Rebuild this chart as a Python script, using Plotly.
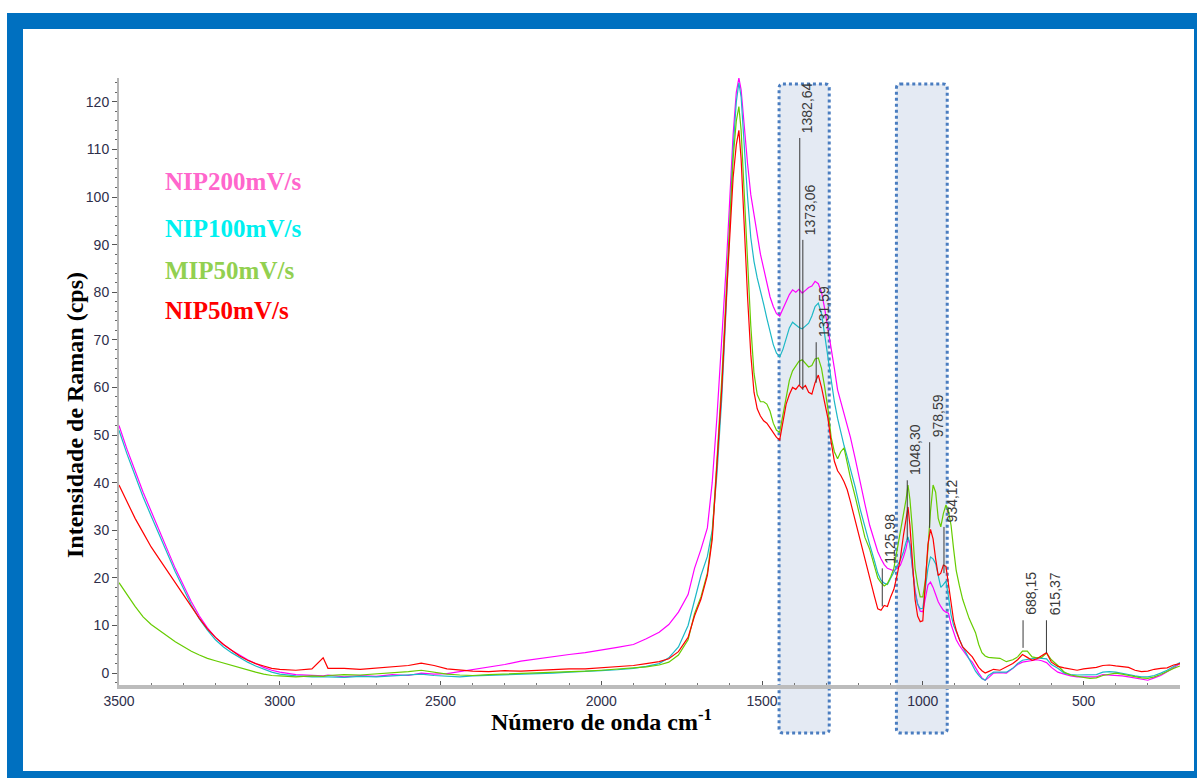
import plotly.graph_objects as go

# ---------------------------------------------------------------- data
wavenumber = [
    3500, 3475, 3450, 3425, 3400, 3375, 3350, 3325, 3300, 3275, 3250, 3225, 3200, 3175, 3150, 3125, 3100, 3075, 3050, 3025, 3000,
    2950, 2900, 2865, 2850, 2800, 2750, 2700, 2650, 2600, 2560, 2520, 2480, 2440, 2400, 2350, 2300, 2250, 2200, 2150, 2100,
    2050, 2000, 1950, 1900, 1860, 1820, 1790, 1760, 1730,
    1710, 1690, 1670, 1655, 1640, 1625, 1610, 1600, 1590, 1580, 1572, 1565, 1555, 1545, 1535, 1525, 1515, 1505, 1495, 1485,
    1475, 1465, 1455, 1445,
    1435, 1425, 1415, 1405, 1395, 1385, 1375, 1365, 1355, 1345,
    1335, 1325, 1315, 1305, 1295, 1285, 1275, 1265, 1255, 1245,
    1235, 1225, 1210, 1195, 1180, 1165, 1150, 1140, 1130, 1120,
    1110, 1100, 1090, 1080, 1070, 1060, 1052, 1046, 1040, 1032,
    1024, 1016, 1008, 1000, 992, 984, 976, 968, 960, 952,
    944, 936, 928, 920, 912, 904, 896, 886, 876, 866,
    856, 846, 836, 826, 816, 806, 796, 780, 760, 740,
    720, 705, 690, 675, 660, 645, 630, 615, 600, 580,
    560, 540, 520, 500, 480, 460, 440, 420, 400, 380,
    360, 340, 320, 300, 280, 260, 240, 220, 200,
]

nip200 = [
    52, 47, 42.5, 38, 34, 30, 26, 22, 18.5, 15, 12, 9.5, 7.5, 6, 4.8, 3.8, 2.8, 2, 1.2, 0.6, 0.2,
    -0.3, -0.5, -0.6, -0.4, -0.8, -0.5, -0.7, -0.3, -0.5, 0, -0.2, -0.1, 0.3, 0.8, 1.2, 1.8, 2.5, 3, 3.4, 3.9,
    4.3, 4.8, 5.4, 6, 7.2, 8.6, 10.2, 12.8, 16.5,
    22, 26, 30.5, 40, 54, 70, 87, 100, 113, 122, 125, 122.5, 114, 107, 100.5, 96, 92, 88, 85, 82,
    79, 77, 75.5, 75,
    76.5, 78, 79.5, 80.5, 80, 80.6, 79.8, 80.4, 81, 81.3,
    82.3, 81.8, 80, 76.5, 72.5, 68, 64, 59.5, 57, 54.5,
    52, 49.5, 45, 40, 35.5, 31, 27.5, 25.5, 24, 22.8,
    22, 21.8, 21.5, 22, 22.6, 24.4, 26.2, 28.3, 27, 22,
    17.5, 14.5, 13, 12.9, 15.5, 18.5, 19.1, 18, 16.5, 15,
    14, 13.2, 12.8, 12.6, 10.2, 8.4, 7, 5.8, 4.8, 3.8,
    3, 2.3, 1, 0, -1, -1.5, -1, 0, 0.1, 0,
    1, 1.8, 2.3, 2.5, 2.7, 2.8, 2.6, 2.2, 1.2, 0.2,
    -0.2, -0.6, -0.8, -0.8, -0.7, -0.8, -0.3, -0.4, -0.4, -0.6,
    -0.8, -1, -1.3, -1.5, -1, -0.5, 0.3, 1.2, 2,
]

nip100 = [
    51, 46, 41.5, 37, 33, 29, 25, 21.3, 17.8, 14.3, 11.4, 9, 7, 5.5, 4.3, 3.3, 2.3, 1.5, 0.8, 0.2, -0.2,
    -0.6, -0.8, -0.7, -0.8, -0.9, -0.7, -0.8, -0.6, -0.5, -0.2, -0.5, -0.7, -0.8, -0.6, -0.5, -0.3, -0.3, -0.1, 0, 0.2,
    0.3, 0.5, 0.7, 1, 1.4, 2, 3.2, 5.5, 10,
    15.5, 20.5, 24.5, 30, 42, 58, 79, 95, 110, 120, 124, 121, 110, 100, 91.5, 86.5, 83, 80.5, 77.5, 74.5,
    71.5, 69, 67.2, 66.4,
    68, 70.5, 72.5, 73.7, 73.2, 72.6, 72.3, 73, 73.5, 75,
    77, 77.7, 75.5, 71, 66.5, 61, 57, 53.5, 50.3, 47.8,
    45.4, 43, 39, 34.5, 30.5, 27, 23.5, 21, 19.5, 18.9,
    18.6, 20, 21.2, 22.5, 23.7, 25.5, 27.5, 28.6, 27, 22,
    17, 14.5, 13.5, 13.6, 18.5, 22, 24.4, 24, 23, 20.5,
    18, 18.6, 19.3, 16, 12.2, 10, 8.6, 7, 5.5, 4.3,
    3, 1.8, 0.4, -0.5, -1.2, -1.5, -0.5, 0.2, 0.2, 0.2,
    1, 2, 2.7, 2.9, 3.1, 3.2, 3.1, 3, 1.8, 1,
    0, -0.3, -0.4, -0.4, -0.3, -0.3, 0.2, 0.3, 0.2, 0,
    -0.3, -0.6, -0.8, -0.8, -0.5, 0, 0.6, 1.4, 2.2,
]

mip50 = [
    19, 16.5, 14, 11.8, 10.2, 9, 7.8, 6.6, 5.6, 4.6, 3.8, 3.1, 2.6, 2.1, 1.6, 1.1, 0.7, 0.2, -0.2, -0.5, -0.6,
    -0.8, -0.6, -0.7, -0.5, -0.3, -0.4, -0.2, 0.1, 0.3, 0.6, 0.2, -0.2, -0.4, -0.5, -0.3, -0.2, -0.1, 0, 0.1, 0.3,
    0.4, 0.6, 0.8, 1, 1.3, 1.7, 2.3, 3.8, 7,
    12.5, 16, 21, 29, 45, 62, 82, 96, 108, 116, 119, 114, 100, 86, 73, 63, 58.5, 57, 57, 56.5,
    55, 52.5, 51, 50.6,
    54, 58, 61.5, 63.5, 64.5, 65.5, 65.8, 65, 64.3, 64.6,
    66, 66.2, 64, 60, 55.5, 49.5, 46.5, 45, 46.5, 47.3,
    44, 41, 37, 33, 28.5, 26, 22.5, 20, 19, 18.3,
    18.8, 20.2, 22, 25.8, 29, 32.8, 36.5, 39.5, 36.5, 30,
    22, 18.5, 16, 16, 19.5, 26, 34, 39.5, 38, 32.5,
    30.7, 33.5, 35.3, 34, 31, 26, 21.5, 18.3, 15.5, 13.5,
    11.5, 10, 8.5, 6, 4.3, 3.6, 3.3, 3.2, 3.1, 2.4,
    2.8, 3.4, 4.6, 4.6, 3.4, 3.2, 3.3, 4.2, 2.8, 1.6,
    0.2, -0.4, -0.7, -0.9, -1.1, -1, -0.5, -0.2, 0, -0.2,
    -0.5, -0.8, -1, -1.1, -0.8, -0.3, 0.4, 1, 1.5,
]

nip50 = [
    39.5, 36, 32.5, 29.5, 26.5, 24, 21.5, 19, 16.5, 14, 11.5, 9.3, 7.5, 6, 4.8, 3.6, 2.7, 2, 1.5, 1, 0.8,
    0.6, 0.9, 3.2, 1, 1, 0.8, 1.1, 1.3, 1.6, 2.1, 1.6, 0.9, 0.6, 0.4, 0.3, 0.5, 0.4, 0.6, 0.7, 0.9,
    0.9, 1.1, 1.3, 1.6, 2, 2.4, 3, 4.5, 7.5,
    12, 15.5, 20.5, 28, 43, 60, 80, 93, 104, 111, 114, 108, 93, 79, 67, 59, 55.5, 54, 53, 52.5,
    51.5, 50.5, 49.5, 49,
    53, 56.5, 58.5, 60, 59.6, 60.5, 59.8, 60.4, 59, 58.6,
    61, 62.6, 60, 57, 53.5, 48.5, 44.5, 42.5, 41.5, 40.2,
    38.5, 36, 32, 27.5, 23.5, 20, 16, 13.5, 13.2, 14.2,
    14, 16, 17.6, 20.5, 24, 29, 33, 34.9, 31, 22,
    15.5, 12, 10.8, 11, 19, 27, 30.2, 28.2, 24, 20.5,
    21, 22.7, 22.4, 18.5, 14.5, 11, 9, 7, 5.5, 4.8,
    4.3, 3.4, 2.3, 1.2, 0.5, 0, 0.3, 0.8, 0.6, 1.3,
    2, 2.8, 3.9, 3.3, 2.7, 3, 3.6, 4.3, 2.3, 1.4,
    1.1, 0.8, 0.6, 0.9, 1, 1.2, 1.6, 1.7, 1.5, 1.3,
    1.2, 0.6, 0.3, 0.4, 0.8, 1, 1.1, 1.7, 2,
]

series_names = ["NIP200mV/s", "NIP100mV/s", "MIP50mV/s", "NIP50mV/s"]
series_values = [nip200, nip100, mip50, nip50]

# peak markers: label text, lower and upper end of the leader line (cps)
peak_labels = ["1382,64", "1373,06", "1331,59", "1125,98", "1048,30", "978,59", "934,12", "688,15", "615,37"]
peak_line_low = [60.5, 59.5, 61, 14, 28, 30.5, 21, 5.3, 4.2]
peak_line_high = [112.4, 91, 69.5, 22, 40.5, 48.5, 30.7, 11.1, 11.1]

x_ticks = [3500, 3000, 2500, 2000, 1500, 1000, 500]
y_ticks = [0, 10, 20, 30, 40, 50, 60, 70, 80, 90, 100, 110, 120]

for vals in series_values:
    assert len(vals) == len(wavenumber)

# ---------------------------------------------------------------- styles
line_colors = ["#ff00ff", "#1cb8c6", "#66cc00", "#ff0000"]
label_colors = ["#ff66cc", "#00f0f0", "#92d050", "#ff0000"]
label_rows = [182, 228, 270, 310]          # vertical pixel centre of each label

W, H = 1197, 778
PL, PR, PT, PB = 119, 1180, 78, 685      # plot area in pixels


def fx(px):
    return (px - PL) / (PR - PL)


def fy(py):
    return (PB - py) / (PB - PT)


SERIF = "Liberation Serif, Times New Roman, serif"
TICKFONT = dict(family="Liberation Sans Narrow, Arial Narrow, Liberation Sans, Arial", size=14, color="#2e2e4a")

fig = go.Figure()

# draw order: magenta, cyan, green, red on top
for name, vals, col in zip(series_names, series_values, line_colors):
    fig.add_trace(go.Scatter(x=wavenumber, y=vals, mode="lines", name=name,
                             line=dict(color=col, width=1.2), showlegend=False))

shapes = []


def rounded_box(x0, x1, y0, y1, rx, ry):
    sx = rx if x1 > x0 else -rx
    sy = ry if y1 > y0 else -ry
    return (f"M {x0 + sx},{y1} L {x1 - sx},{y1} Q {x1},{y1} {x1},{y1 - sy} "
            f"L {x1},{y0 + sy} Q {x1},{y0} {x1 - sx},{y0} L {x0 + sx},{y0} "
            f"Q {x0},{y0} {x0},{y0 + sy} L {x0},{y1 - sy} Q {x0},{y1} {x0 + sx},{y1} Z")


# highlighted bands
for (bx0, bx1) in [(1447, 1291), (1082, 924)]:
    shapes.append(dict(type="path", xref="x", yref="paper", layer="below",
                       path=rounded_box(bx0, bx1, fy(733), fy(84), 12, 0.007),
                       fillcolor="#e4eaf3",
                       line=dict(color="#4a7dc0", width=3, dash="dot")))

# leader lines for the labelled peaks
for lab, lo, hi in zip(peak_labels, peak_line_low, peak_line_high):
    pos = float(lab.replace(",", "."))
    shapes.append(dict(type="line", xref="x", yref="y", x0=pos, x1=pos, y0=lo, y1=hi,
                       line=dict(color="#3a3a3a", width=1)))

# blue frame around the figure
frame = "#0070c0"
for (x0, x1, y0, y1) in [(7, 1197, 13, 29), (7, 23, 13, 778), (7, 1197, 771, 778), (1194, 1197, 13, 778)]:
    shapes.append(dict(type="rect", xref="paper", yref="paper", layer="above",
                       x0=fx(x0), x1=fx(x1), y0=fy(y1), y1=fy(y0),
                       fillcolor=frame, line=dict(width=0)))

annotations = []
for lab, hi in zip(peak_labels, peak_line_high):
    pos = float(lab.replace(",", "."))
    annotations.append(dict(x=pos, y=hi, xref="x", yref="y", text=lab, showarrow=False,
                            textangle=-90, xanchor="center", yanchor="bottom",
                            xshift=8, yshift=3,
                            font=dict(family="Liberation Sans, Arial", size=14, color="#3a3a3a")))

for name, col, row in zip(series_names, label_colors, label_rows):
    annotations.append(dict(x=fx(163), y=fy(row), xref="paper", yref="paper", text=f"<b>{name}</b>",
                            showarrow=False, xanchor="left", yanchor="middle",
                            font=dict(family=SERIF, size=25, color=col)))

annotations.append(dict(x=fx(601), y=fy(720), xref="paper", yref="paper",
                        text="<b>Número de onda cm<sup>-1</sup></b>", showarrow=False,
                        xanchor="center", yanchor="middle",
                        font=dict(family=SERIF, size=24, color="#000000")))
annotations.append(dict(x=fx(75), y=fy(415), xref="paper", yref="paper",
                        text="<b>Intensidade de Raman (cps)</b>", showarrow=False, textangle=-90,
                        xanchor="center", yanchor="middle",
                        font=dict(family=SERIF, size=24, color="#000000")))

fig.update_layout(
    width=W, height=H,
    margin=dict(l=PL, r=W - PR, t=PT, b=H - PB, pad=0),
    paper_bgcolor="white", plot_bgcolor="white",
    shapes=shapes, annotations=annotations,
    showlegend=False,
    xaxis=dict(range=[3500, 200], showgrid=False, zeroline=False,
               tickvals=x_ticks, ticktext=[str(t) for t in x_ticks],
               ticks="inside", ticklen=4, tickcolor="#555555", tickwidth=1,
               minor=dict(dtick=100, tick0=0, ticks="inside", ticklen=2, tickcolor="#777777"),
               showline=True, linecolor="#bcbcbc", linewidth=4,
               tickfont=TICKFONT),
    yaxis=dict(range=[-2.5, 125], showgrid=False, zeroline=False,
               tickvals=y_ticks, ticktext=[str(t) for t in y_ticks],
               ticks="outside", ticklen=5, tickcolor="#555555", tickwidth=1,
               minor=dict(dtick=2, tick0=0, ticks="outside", ticklen=2, tickcolor="#666666"),
               showline=True, linecolor="#b5b5b5", linewidth=2,
               tickfont=TICKFONT),
)

fig.write_html("out.html")
